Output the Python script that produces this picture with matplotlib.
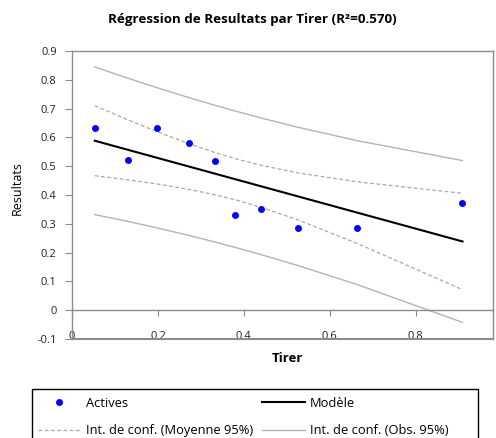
import numpy as np
import matplotlib
matplotlib.use("Agg")
import matplotlib.pyplot as plt
from matplotlib.lines import Line2D
from matplotlib.patches import Rectangle

plt.rcParams['font.family'] = ['Open Sans', 'DejaVu Sans']

# Data
tirer = [0.053, 0.131, 0.197, 0.272, 0.333, 0.379, 0.439, 0.526, 0.664, 0.909]
resultats = [0.631, 0.523, 0.631, 0.579, 0.518, 0.330, 0.353, 0.284, 0.284, 0.373]
x_ticks = [0, 0.2, 0.4, 0.6, 0.8]
y_ticks = [-0.1, 0, 0.1, 0.2, 0.3, 0.4, 0.5, 0.6, 0.7, 0.8, 0.9]
t_crit = 2.306  # Student t, 8 df, 95%

x = np.array(tirer)
y = np.array(resultats)
n = len(x)
b, a = np.polyfit(x, y, 1)
resid = y - (a + b * x)
s = np.sqrt(np.sum(resid ** 2) / (n - 2))
xbar = x.mean()
sxx = np.sum((x - xbar) ** 2)
xs = np.sort(x)
yfit = a + b * xs
se_m = s * np.sqrt(1 / n + (xs - xbar) ** 2 / sxx)
se_o = s * np.sqrt(1 + 1 / n + (xs - xbar) ** 2 / sxx)

W, H = 496, 438
fig = plt.figure(figsize=(W / 100, H / 100), dpi=100)
ax = fig.add_axes([72 / W, 1 - 339 / H, (493 - 72) / W, (339 - 51) / H])

grey = '#8c8c8c'
obs_c = '#b4b4b4'
mean_c = '#a8a8a8'
dash = (0, (3, 2))
ax.plot(xs, yfit + t_crit * se_o, color=obs_c, lw=1)
ax.plot(xs, yfit - t_crit * se_o, color=obs_c, lw=1)
ax.plot(xs, yfit + t_crit * se_m, color=mean_c, lw=0.9, ls=dash)
ax.plot(xs, yfit - t_crit * se_m, color=mean_c, lw=0.9, ls=dash)
ax.plot(xs, yfit, color='black', lw=1.5)
ax.plot(x, y, 'o', color='#0000ff', ms=5, mec='none')

ax.set_xlim(0, 0.98)
ax.set_ylim(-0.1, 0.9)
ax.set_xticks(x_ticks)
ax.set_xticklabels([f'{v:g}' for v in x_ticks])
ax.set_yticks(y_ticks)
ax.set_yticklabels([f'{v:g}' for v in y_ticks])

ax.spines['bottom'].set_position(('data', 0))
for sp in ax.spines.values():
    sp.set_color(grey)
    sp.set_linewidth(1)
ax.axhline(-0.1, color=grey, lw=1.5, clip_on=False)
ax.tick_params(axis='x', direction='out', length=4, color=grey, pad=11,
               labelsize=8, labelcolor='#222222')
ax.tick_params(axis='y', direction='out', length=5, color=grey, pad=6,
               labelsize=8, labelcolor='#222222')

fig.text(252 / W, 1 - 20 / H, 'Régression de Resultats par Tirer (R²=0.570)',
         ha='center', va='center', fontsize=9.6, fontweight='bold')
fig.text(287 / W, 1 - 359 / H, 'Tirer', ha='center', va='center',
         fontsize=9.5, fontweight='bold')
fig.text(17 / W, 1 - 188 / H, 'Resultats', ha='center', va='center',
         fontsize=9, rotation=90)

# Legend frame (extends past the bottom edge, as in the reference)
fig.add_artist(Rectangle((32 / W, -10 / H), (478 - 32) / W, (10 + H - 389) / H,
                         transform=fig.transFigure, fill=False, ec='black',
                         lw=1, clip_on=False))

h_pts = Line2D([], [], ls='none', marker='o', color='#0000ff', ms=5, mec='none')
h_mean = Line2D([], [], color=mean_c, lw=0.9, ls=dash)
h_mod = Line2D([], [], color='black', lw=1.5)
h_obs = Line2D([], [], color=obs_c, lw=1)

fs = 9.3
common = dict(loc='upper left', fontsize=fs, frameon=False, handlelength=3.3,
              handletextpad=0.4, borderpad=0, borderaxespad=0, labelspacing=1.1)
leg1 = fig.legend([h_pts, h_mean], ['Actives', 'Int. de conf. (Moyenne 95%)'],
                  bbox_to_anchor=(38 / W, 1 - 397 / H), **common)
leg2 = fig.legend([h_mod, h_obs], ['Modèle', 'Int. de conf. (Obs. 95%)'],
                  bbox_to_anchor=(262 / W, 1 - 397 / H), **common)

fig.savefig('out.png', dpi=100)
